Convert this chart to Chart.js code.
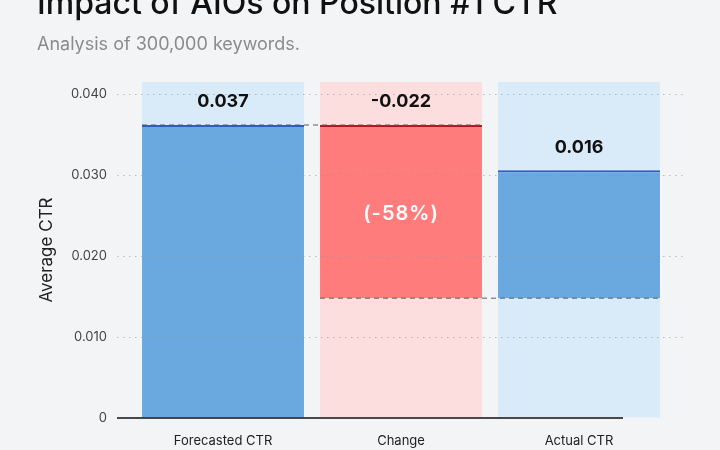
<!DOCTYPE html>
<html>
<head>
<meta charset="utf-8">
<script src="https://cdn.jsdelivr.net/npm/chart.js@4.4.1/dist/chart.umd.min.js"></script>
<style>
  html, body { margin: 0; padding: 0; background: #f3f4f6; }
  #wrap { width: 720px; height: 450px; }
</style>
</head>
<body>
<div id="wrap"><canvas id="ctrChart"></canvas></div>
<script>
const categories = ['Forecasted CTR', 'Change', 'Actual CTR'];
const barStart = [0, 0.0148, 0.0148];
const barEnd = [0.0362, 0.0362, 0.0306];
const valueLabels = ['0.037', '-0.022', '0.016'];
const changeLabel = '(-58%)';
const yTicks = [0, 0.01, 0.02, 0.03, 0.04];
const yMax = 0.0415;

const fillColors = ['#6aa9df', '#ff7c7c', '#6aa9df'];
const backColors = ['#d9eaf9', '#fddedf', '#d9eaf9'];
const edgeColors = ['#2b5cc0', '#b3171b', '#2b5cc0'];

// gridlines, axis line, waterfall connectors and labels
const decorPlugin = {
    id: 'decor',
    afterDatasetsDraw(chart) {
        const ctx = chart.ctx;
        const area = chart.chartArea;
        const y = chart.scales.y;
        const bars = chart.getDatasetMeta(0).data;

        ctx.save();
        // dotted guides, drawn over the bars
        ctx.strokeStyle = 'rgba(150,150,150,0.6)';
        ctx.lineWidth = 1.2;
        ctx.setLineDash([1.5, 4.5]);
        yTicks.forEach(v => {
            if (v === 0) return;
            const py = Math.round(y.getPixelForValue(v)) + 0.5;
            ctx.beginPath();
            ctx.moveTo(area.left - 17, py);
            ctx.lineTo(area.right + 19, py);
            ctx.stroke();
        });

        // baseline
        ctx.setLineDash([]);
        ctx.strokeStyle = '#111';
        ctx.lineWidth = 1.5;
        const py0 = y.getPixelForValue(0);
        ctx.beginPath();
        ctx.moveTo(area.left - 17, py0);
        ctx.lineTo(area.right - 45, py0);
        ctx.stroke();

        // connectors
        ctx.setLineDash([5, 4]);
        ctx.strokeStyle = 'rgba(90,90,90,0.65)';
        ctx.lineWidth = 1.5;
        const connect = (a, b, v) => {
            const py = y.getPixelForValue(v);
            ctx.beginPath();
            ctx.moveTo(bars[a].x - bars[a].width / 2, py);
            ctx.lineTo(bars[b].x + bars[b].width / 2, py);
            ctx.stroke();
        };
        connect(0, 1, barEnd[0]);
        connect(1, 2, barStart[1]);
        ctx.setLineDash([]);

        // value labels above each bar
        ctx.fillStyle = '#111';
        ctx.font = 'bold 18px Inter';
        ctx.textAlign = 'center';
        ctx.textBaseline = 'middle';
        bars.forEach((bar, i) => {
            ctx.fillText(valueLabels[i], bar.x, y.getPixelForValue(barEnd[i]) - 23);
        });

        // percent change inside the red bar
        ctx.fillStyle = '#ffffff';
        ctx.font = '600 20px Inter';
        ctx.letterSpacing = '1px';
        const mid = (y.getPixelForValue(barStart[1]) + y.getPixelForValue(barEnd[1])) / 2;
        ctx.fillText(changeLabel, bars[1].x, mid + 2);
        ctx.restore();
    }
};

const ctx = document.getElementById('ctrChart').getContext('2d');
new Chart(ctx, {
    type: 'bar',
    data: {
        labels: categories,
        datasets: [{
            data: categories.map((c, i) => [barStart[i], barEnd[i]]),
            backgroundColor: fillColors,
            borderColor: edgeColors,
            borderWidth: { top: 2, right: 0, bottom: 0, left: 0 },
            borderSkipped: false,
            grouped: false,
            order: 1,
            categoryPercentage: 1,
            barPercentage: 0.91
        }, {
            data: categories.map(() => yMax),
            backgroundColor: backColors,
            borderWidth: 0,
            grouped: false,
            order: 2,
            categoryPercentage: 1,
            barPercentage: 0.91
        }]
    },
    options: {
        responsive: true,
        maintainAspectRatio: false,
        animation: false,
        layout: { padding: { left: 37, right: 52, top: 0, bottom: 0 } },
        scales: {
            x: {
                grid: { display: false, drawTicks: false },
                border: { display: false },
                ticks: {
                    color: '#222',
                    padding: 15,
                    font: { family: 'Inter', size: 13 }
                },
                afterFit: s => { s.height = 32; }
            },
            y: {
                min: 0,
                max: yMax,
                grid: { display: true, drawOnChartArea: false, drawTicks: true, tickLength: 17, tickColor: 'transparent' },
                border: { display: false },
                afterBuildTicks: s => { s.ticks = yTicks.map(v => ({ value: v })); },
                afterFit: s => { s.width = 97; },
                ticks: {
                    color: '#444',
                    padding: 10,
                    font: { family: 'Inter', size: 13 },
                    callback: v => v === 0 ? '0' : v.toFixed(3)
                },
                title: {
                    display: true,
                    text: 'Average CTR',
                    color: '#222',
                    padding: { top: 0, bottom: 10 },
                    font: { family: 'Inter', size: 17 }
                }
            }
        },
        plugins: {
            legend: { display: false },
            tooltip: { enabled: false },
            title: {
                display: true,
                text: 'Impact of AIOs on Position #1 CTR',
                align: 'start',
                color: '#111',
                font: { family: 'Inter', size: 32, weight: '500' },
                padding: { top: -15, bottom: 0 }
            },
            subtitle: {
                display: true,
                text: 'Analysis of 300,000 keywords.',
                align: 'start',
                color: '#8b8b8b',
                font: { family: 'Inter', size: 18 },
                padding: { top: 10, bottom: 27 }
            }
        }
    },
    plugins: [decorPlugin]
});
</script>
</body>
</html>
